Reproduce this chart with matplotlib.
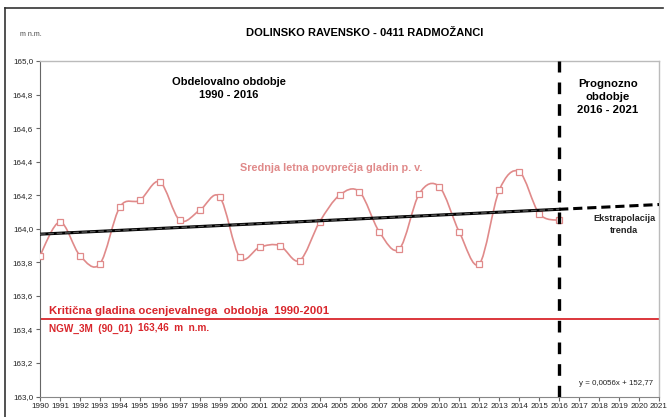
import matplotlib.pyplot as plt
import numpy as np
from matplotlib.lines import Line2D
from matplotlib.patches import PathPatch
from matplotlib.path import Path
from matplotlib.ticker import FuncFormatter, MultipleLocator

plt.rcParams["font.family"] = ["Liberation Sans", "DejaVu Sans"]

years = list(range(1990, 2017))
levels = [163.84, 164.04, 163.84, 163.79, 164.13, 164.17, 164.28, 164.05, 164.11,
          164.19, 163.83, 163.89, 163.90, 163.81, 164.04, 164.20, 164.22, 163.98,
          163.88, 164.21, 164.25, 163.98, 163.79, 164.23, 164.34, 164.09, 164.05]
critical_level = 163.46
split_year = 2016
end_year = 2021

PINK = "#e08a8a"
RED = "#d9262c"


def smooth_path(x, y, t=1 / 6):
    # Excel-style smoothed line: cubic Bezier through every point
    pts = np.column_stack([x, y]).astype(float)
    verts = [pts[0]]
    codes = [Path.MOVETO]
    n = len(pts)
    for i in range(n - 1):
        p0 = pts[i - 1] if i > 0 else pts[i]
        p1, p2 = pts[i], pts[i + 1]
        p3 = pts[i + 2] if i + 2 < n else pts[i + 1]
        verts += [p1 + (p2 - p0) * t, p2 - (p3 - p1) * t, p2]
        codes += [Path.CURVE4] * 3
    return Path(verts, codes)


fig = plt.figure(figsize=(6.67, 4.17), dpi=100)
ax = fig.add_axes([40 / 667, 20.5 / 417, 619 / 667, 335.5 / 417])

# observed annual means
ax.add_patch(PathPatch(smooth_path(years, levels), facecolor="none",
                       edgecolor=PINK, lw=1.2, zorder=3))
ax.plot(years, levels, ls="none", marker="s", ms=5, mfc="white",
        mec=PINK, mew=0.9, zorder=4)

# linear trend and its extrapolation
k, b = np.polyfit(years, levels, 1)
xt = np.array([years[0], split_year])
ax.plot(xt, k * xt + b, color="black", lw=2.2, zorder=5)
ax.plot(xt, k * xt + b, color="#555555", lw=1.0, ls=(0, (4, 2)), zorder=6)
xe = np.array([split_year, end_year])
ax.plot(xe, k * xe + b, color="black", lw=2.2, ls=(0, (3, 1.6)), zorder=5)

# critical level and split between periods
ax.axhline(critical_level, color=RED, lw=1.3, zorder=2)
ax.axvline(split_year, color="black", lw=2.4, ls=(0, (3.5, 3)), zorder=6)

ax.text(1990.45, 163.512, "Kritična gladina ocenjevalnega  obdobja  1990-2001",
        color=RED, fontsize=8.2, fontweight="bold", ha="left", va="center")
ax.text(1990.45, 163.40, "NGW_3M  (90_01)", color=RED, fontsize=7.2,
        fontweight="bold", ha="left", va="center")
ax.text(1994.9, 163.41, "163,46  m  n.m.", color=RED, fontsize=7.2,
        fontweight="bold", ha="left", va="center")
ax.text(2004.6, 164.365, "Srednja letna povprečja gladin p. v.", color=PINK,
        fontsize=7.8, fontweight="bold", ha="center", va="center")
ax.text(1999.45, 164.835, "Obdelovalno obdobje\n1990 - 2016", fontsize=8,
        fontweight="bold", ha="center", va="center", linespacing=1.4)
ax.text(2018.45, 164.787, "Prognozno\nobdobje\n2016 - 2021", fontsize=8.2,
        fontweight="bold", ha="center", va="center", linespacing=1.35)
ax.text(2019.25, 164.025, "Ekstrapolacija\ntrenda", fontsize=6.6,
        fontweight="bold", color="#222222", ha="center", va="center", linespacing=1.45)
ax.text(2018.85, 163.08, "y = 0,0056x + 152,77", fontsize=5.7,
        color="#222222", ha="center", va="center")

ax.set_xlim(1990, end_year)
ax.set_ylim(163.0, 165.0)
ax.set_xticks(range(1990, end_year + 1))
ax.yaxis.set_major_locator(MultipleLocator(0.2))
ax.yaxis.set_major_formatter(FuncFormatter(lambda v, p: f"{v:.1f}".replace(".", ",")))
ax.tick_params(axis="x", labelsize=5.8, length=3, width=0.8, color="#666666",
               labelcolor="#222222", pad=1.5, direction="out")
ax.tick_params(axis="y", labelsize=5.8, length=3, width=0.8, color="#666666",
               labelcolor="#222222", pad=2)
for s in ["top", "right"]:
    ax.spines[s].set_color("#bbbbbb")
    ax.spines[s].set_linewidth(1.0)
ax.spines["left"].set_color("#666666")
ax.spines["bottom"].set_color("#888888")

fig.text(365 / 667, 1 - 33 / 417, "DOLINSKO RAVENSKO - 0411 RADMOŽANCI",
         fontsize=8, fontweight="bold", ha="center", va="center")
fig.text(20 / 667, 1 - 34 / 417, "m n.m.", fontsize=5, color="#444444",
         ha="left", va="center")

# chart border (cropped screenshot: only top and left edges visible)
fig.add_artist(Line2D([5 / 667, 663 / 667], [1 - 8 / 417, 1 - 8 / 417],
                      color="#333333", lw=1.2, transform=fig.transFigure))
fig.add_artist(Line2D([5 / 667, 5 / 667], [1 - 8 / 417, 0],
                      color="#333333", lw=1.2, transform=fig.transFigure))

fig.savefig("out.png", dpi=100)
plt.close(fig)
